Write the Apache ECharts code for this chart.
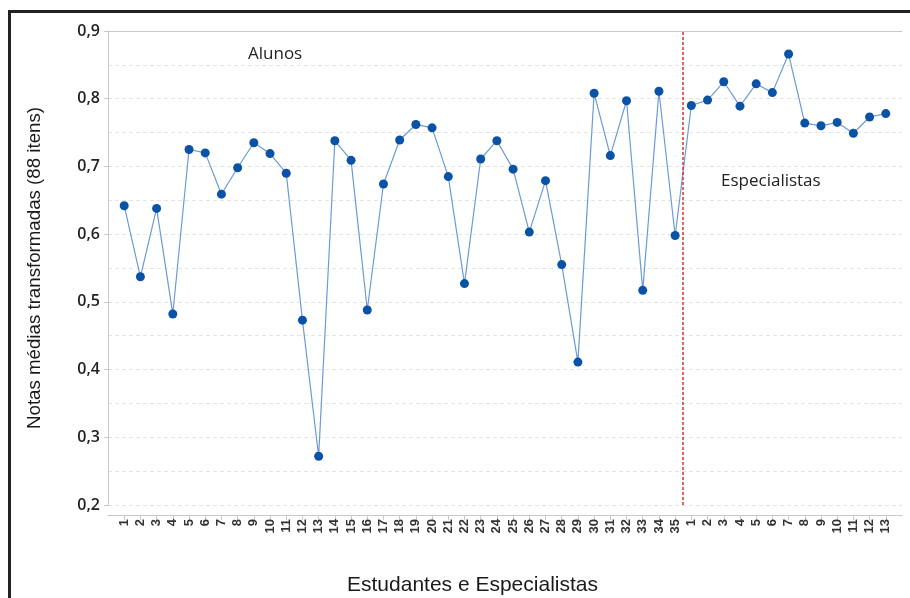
<!DOCTYPE html>
<html>
<head>
<meta charset="utf-8">
<script src="https://cdn.jsdelivr.net/npm/echarts@6/dist/echarts.min.js"></script>
<style>
  html, body { margin: 0; padding: 0; background: #fff; }
  #chart { width: 910px; height: 598px; }
</style>
</head>
<body>
<div id="chart"></div>
<script>
// Participant labels along the horizontal axis
const studentLabels = ['1','2','3','4','5','6','7','8','9','10','11','12','13','14','15','16','17','18',
  '19','20','21','22','23','24','25','26','27','28','29','30','31','32','33','34','35'];
const specialistLabels = ['1','2','3','4','5','6','7','8','9','10','11','12','13'];

// Mean transformed scores (88 items)
const studentScores = [0.642, 0.537, 0.638, 0.482, 0.725, 0.720, 0.659, 0.698, 0.735, 0.719,
  0.690, 0.473, 0.272, 0.738, 0.709, 0.488, 0.674, 0.739, 0.762, 0.757,
  0.685, 0.527, 0.711, 0.738, 0.696, 0.603, 0.679, 0.555, 0.411, 0.808,
  0.716, 0.797, 0.517, 0.811, 0.598];
const specialistScores = [0.790, 0.798, 0.825, 0.789, 0.822, 0.809, 0.866, 0.764, 0.760, 0.765,
  0.749, 0.773, 0.778];

// Y-axis ticks
const yTicks = [0.2, 0.3, 0.4, 0.5, 0.6, 0.7, 0.8, 0.9];

const allLabels = studentLabels.concat(specialistLabels);
const allScores = studentScores.concat(specialistScores);
const positions = allLabels.map((_, i) => i + 1);
const seriesData = allScores.map((v, i) => [positions[i], v]);
const dividerPos = studentLabels.length + 0.5;

const chart = echarts.init(document.getElementById('chart'), null, { renderer: 'canvas' });

chart.setOption({
  animation: false,
  backgroundColor: '#ffffff',
  grid: { left: 108, right: 8, top: 31, bottom: 93, containLabel: false },
  xAxis: [
    {
      type: 'value',
      min: 0,
      max: allLabels.length + 1,
      offset: 10,
      splitLine: { show: false },
      axisLine: { show: true, lineStyle: { color: '#c9c9c9', width: 1 } },
      axisTick: { show: true, customValues: positions, length: 5, lineStyle: { color: '#c9c9c9' } },
      axisLabel: {
        customValues: positions,
        rotate: 90,
        margin: 4,
        color: '#333',
        fontFamily: 'Liberation Sans, Arial, sans-serif',
        fontWeight: 'bold',
        fontSize: 13,
        formatter: v => allLabels[Math.round(v) - 1] || ''
      }
    },
    {
      type: 'value',
      position: 'top',
      min: 0,
      max: allLabels.length + 1,
      axisLine: { show: true, lineStyle: { color: '#c9c9c9', width: 1 } },
      axisTick: { show: false },
      axisLabel: { show: false },
      splitLine: { show: false }
    }
  ],
  yAxis: [
    {
      type: 'value',
      min: 0.2,
      max: 0.9,
      interval: 0.1,
      name: 'Notas médias transformadas (88 itens)',
      nameLocation: 'middle',
      nameGap: 64,
      nameTextStyle: {
        fontFamily: 'Liberation Sans, Arial, sans-serif',
        fontSize: 18.7,
        color: '#1a1a1a'
      },
      axisLine: { show: true, lineStyle: { color: '#c9c9c9', width: 1 } },
      axisTick: { show: true, length: 4, lineStyle: { color: '#c9c9c9' } },
      axisLabel: {
        margin: 8,
        color: '#222',
        fontFamily: 'Open Sans, sans-serif',
        fontWeight: 600,
        fontSize: 16,
        formatter: v => {
          const t = yTicks.find(x => Math.abs(x - v) < 1e-6);
          return t !== undefined ? t.toFixed(1).replace('.', ',') : '';
        }
      },
      splitLine: { show: true, lineStyle: { color: '#e4e4e4', type: [4, 3], width: 1 } },
      minorTick: { show: false, splitNumber: 2 },
      minorSplitLine: { show: true, lineStyle: { color: '#e4e4e4', type: [4, 3], width: 1 } }
    },
    {
      type: 'value',
      position: 'right',
      min: 0.2,
      max: 0.9,
      interval: 0.1,
      axisLine: { show: true, lineStyle: { color: '#c9c9c9', width: 1 } },
      axisTick: { show: false },
      axisLabel: { show: false },
      splitLine: { show: false }
    }
  ],
  series: [
    {
      type: 'line',
      data: seriesData,
      xAxisIndex: 0,
      yAxisIndex: 0,
      symbol: 'circle',
      symbolSize: 9,
      itemStyle: { color: '#0a52a5' },
      lineStyle: { color: '#6b9bd3', width: 1.2 },
      z: 3,
      markLine: {
        silent: true,
        symbol: 'none',
        label: { show: false },
        lineStyle: { color: '#d8322e', type: [3, 2], width: 1.5 },
        data: [{ xAxis: dividerPos }]
      }
    }
  ],
  graphic: [
    {
      type: 'rect',
      shape: { x: 9.5, y: 11.5, width: 920, height: 620 },
      style: { fill: 'none', stroke: '#222', lineWidth: 3 },
      silent: true
    },
    {
      type: 'text',
      left: 248, top: 46,
      style: { text: 'Alunos', fontFamily: 'Open Sans, sans-serif', fontSize: 17, fill: '#222' }
    },
    {
      type: 'text',
      left: 721, top: 173,
      style: { text: 'Especialistas', fontFamily: 'Open Sans, sans-serif', fontSize: 17, fill: '#222' }
    },
    {
      type: 'text',
      left: 347, top: 575,
      style: { text: 'Estudantes e Especialistas', fontFamily: 'Liberation Sans, Arial, sans-serif', fontSize: 21, fill: '#1a1a1a' }
    }
  ]
});
</script>
</body>
</html>
